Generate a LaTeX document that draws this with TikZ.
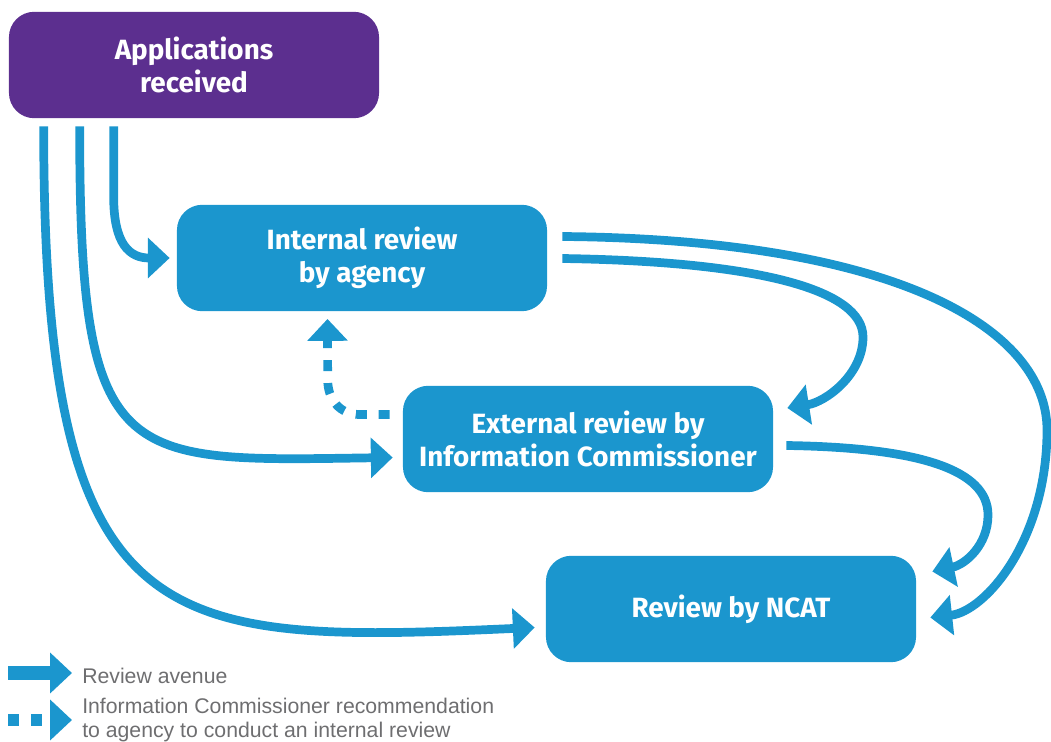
\documentclass[tikz,border=0pt]{standalone}
\usepackage{fontspec}
\setmainfont{Fira Sans}
\newfontfamily\legendfont{Liberation Sans}
\usetikzlibrary{arrows.meta}
\definecolor{reviewblue}{RGB}{27,150,206}
\definecolor{startpurple}{RGB}{92,47,143}
\definecolor{legendgray}{RGB}{110,110,112}

\begin{document}
\begin{tikzpicture}[x=0.025cm, y=-0.025cm]
\tikzset{
    stage/.style={rectangle, rounded corners=18pt, fill=reviewblue, text=white, minimum width=9.25cm, minimum height=2.66cm, align=center, font=\fontsize{19.8}{23.4}\selectfont\bfseries},
    startbox/.style={stage, fill=startpurple},
    avenue/.style={draw=reviewblue, line width=6.2pt, -{Triangle[length=15.5pt, width=28pt]}},
    recommend/.style={avenue, dash pattern=on 7.8pt off 8.5pt},
    legendtext/.style={anchor=west, inner sep=0pt, text=legendgray, align=left, font=\legendfont\fontsize{15.1}{17.7}\selectfont}
}
  \useasboundingbox (0,0) rectangle (1051,742);

  \node[startbox] (app) at (194,65) {Applications\\received};
  \node[stage] (int) at (362,258) {Internal review\\by agency};
  \node[stage] (ext) at (588,439) {External review by\\Information Commissioner};
  \node[stage] (ncat) at (731,609) {Review by NCAT};

  % review avenues out of the applications
  \draw[avenue] ([shift={(105,8)}]app.south west) -- ++(0,70) .. controls +(0,48) and +(-40,0) .. ([shift={(-7,0)}]int.west);
  \draw[avenue] ([shift={(71,8)}]app.south west) .. controls +(0,343) and +(-273,4) .. ([shift={(-10,18.5)}]ext.west);
  \draw[avenue] ([shift={(35,8)}]app.south west) .. controls +(0,513) and +(-376,17) .. ([shift={(-11,18.5)}]ncat.west);

  % onward reviews
  \draw[avenue] ([shift={(15,0.5)}]int.east) .. controls +(198,3) and +(0,-47) .. (863,337) .. controls +(0,38) and +(38,-6) .. ([shift={(14,-31)}]ext.east);
  \draw[avenue] ([shift={(15,-21.5)}]int.east) .. controls +(338,3) and +(0,-100) .. (1047,430) .. controls +(0,110) and +(55,-6) .. ([shift={(14,8.5)}]ncat.east);
  \draw[avenue] ([shift={(13,6.5)}]ext.east) .. controls +(134,2) and +(0,-45) .. (988,515) .. controls +(0,30) and +(33,-7) .. ([shift={(16,-37.5)}]ncat.east);

  % recommendation back to the agency
  \draw[recommend] ([shift={(-13,-24.5)}]ext.west) -- ++(-30,0) .. controls +(-20,0) and +(0,20) .. ++(-32,-35) -- ([shift={(-34.5,7.5)}]int.south);

  % legend
  \node[legendtext, anchor=base west] (legavenue) at (82,683) {Review avenue};
  \node[legendtext] (legrecommend) at (82,720) {Information Commissioner recommendation\\to agency to conduct an internal review};
  \draw[avenue, line width=10pt] ([shift={(-74,-10)}]legavenue.base west) -- ([shift={(-10,-10)}]legavenue.base west);
  \draw[recommend, line width=9pt] ([shift={(-74,0)}]legrecommend.west) -- ([shift={(-10,0)}]legrecommend.west);
\end{tikzpicture}
\end{document}
